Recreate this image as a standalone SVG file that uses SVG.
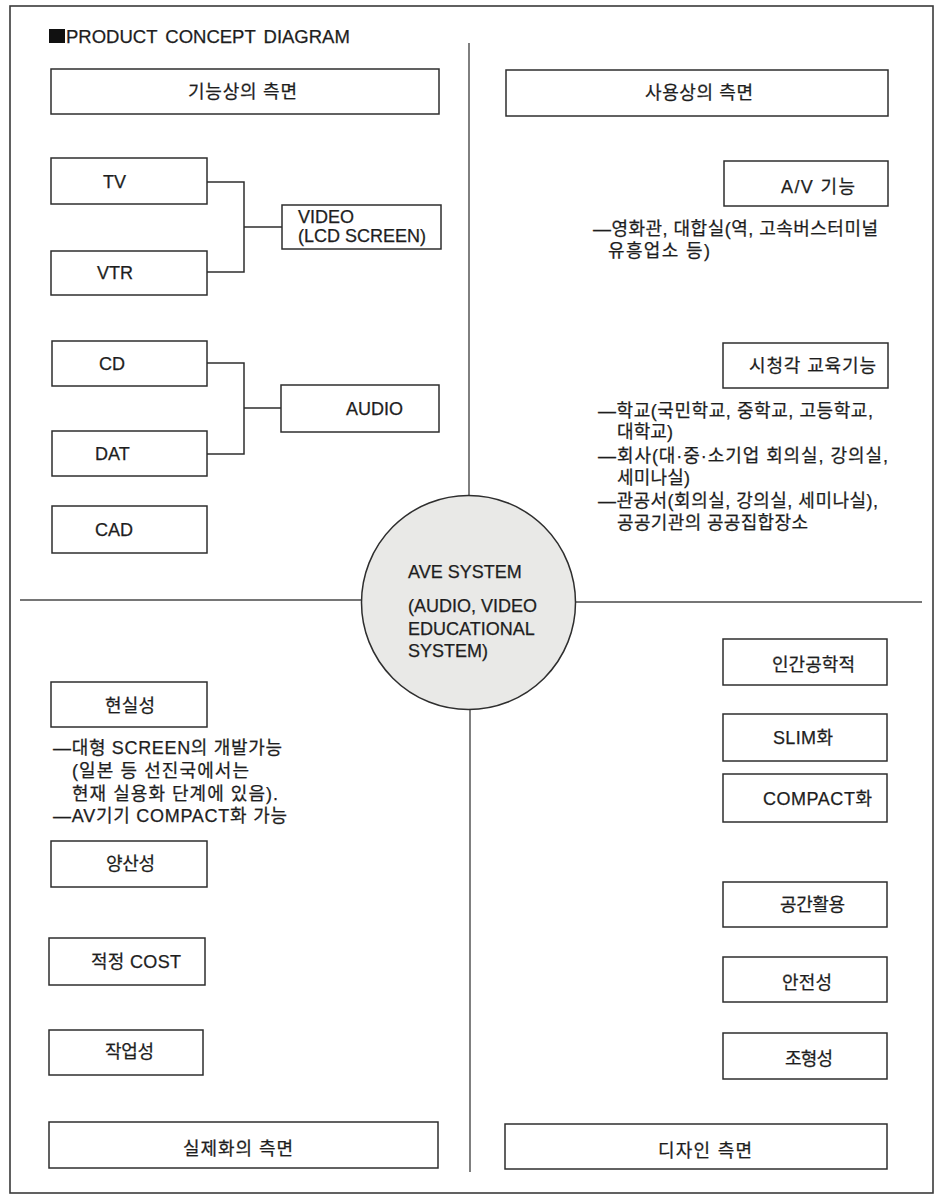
<svg xmlns="http://www.w3.org/2000/svg" width="940" height="1198" viewBox="0 0 940 1198">
<style>
.bg{fill:#ffffff}
.frame{fill:none;stroke:#3a3a3a;stroke-width:1.6}
.box{fill:#ffffff;stroke:#2e2e2e;stroke-width:1.5}
.ln{fill:none;stroke:#2e2e2e;stroke-width:1.5}
.div{fill:none;stroke:#4a4a4a;stroke-width:1.4}
.hub{fill:#e9e9e7;stroke:#2e2e2e;stroke-width:1.5}
text{font-family:"Liberation Sans","Noto Sans CJK KR",sans-serif;fill:#1e1e1e;stroke:#1e1e1e;stroke-width:0.25}
.t{font-size:18px}
.h{font-size:18.5px;word-spacing:3px}
.k{font-size:18px}
.n{font-size:18px}
</style>
<rect class="bg" x="0" y="0" width="940" height="1198"/>
<rect class="frame" x="10" y="6" width="923" height="1187"/>

<g id="title">
<rect x="49" y="29" width="16" height="14" fill="#111"/>
<text class="h" x="66" y="43">PRODUCT CONCEPT DIAGRAM</text>
</g>

<g id="connectors">
<path class="div" d="M469 43 V495 M470 710 V1172 M20 600 H362 M575 602 H922"/>
<path class="ln" d="M207 182 H244 V272 H207 M244 227 H282"/>
<path class="ln" d="M207 363 H244 V454 H207 M244 408 H281"/>
</g>

<g id="hub">
<circle class="hub" cx="468.5" cy="602.5" r="107"/>
<text class="t" x="408" y="578">AVE SYSTEM</text>
<text class="t" x="408" y="612">(AUDIO, VIDEO</text>
<text class="t" x="408" y="635">EDUCATIONAL</text>
<text class="t" x="408" y="657">SYSTEM)</text>
</g>

<g id="func-aspect"><rect class="box" x="51" y="69" width="388" height="45"/><text class="k" x="188" y="98" textLength="109" lengthAdjust="spacing">기능상의 측면</text></g>
<g id="use-aspect"><rect class="box" x="506" y="70" width="382" height="46"/><text class="k" x="645" y="99" textLength="108" lengthAdjust="spacing">사용상의 측면</text></g>
<g id="real-aspect"><rect class="box" x="49" y="1122" width="389" height="46"/><text class="k" x="183" y="1155" textLength="110" lengthAdjust="spacing">실제화의 측면</text></g>
<g id="design-aspect"><rect class="box" x="505" y="1124" width="382" height="45"/><text class="k" x="658" y="1157" textLength="94" lengthAdjust="spacing">디자인 측면</text></g>

<g id="tv"><rect class="box" x="51" y="158" width="156" height="46"/><text class="t" x="103" y="188">TV</text></g>
<g id="vtr"><rect class="box" x="51" y="251" width="156" height="44"/><text class="t" x="97" y="279">VTR</text></g>
<g id="video"><rect class="box" x="282" y="205" width="159" height="44"/><text class="t" x="298" y="223">VIDEO</text><text class="t" x="298" y="242">(LCD SCREEN)</text></g>
<g id="cd"><rect class="box" x="52" y="341" width="155" height="45"/><text class="t" x="99" y="370">CD</text></g>
<g id="dat"><rect class="box" x="52" y="431" width="155" height="45"/><text class="t" x="95" y="460">DAT</text></g>
<g id="cad"><rect class="box" x="52" y="506" width="155" height="47"/><text class="t" x="95" y="536">CAD</text></g>
<g id="audio"><rect class="box" x="281" y="385" width="158" height="47"/><text class="t" x="346" y="415">AUDIO</text></g>

<g id="av"><rect class="box" x="724" y="161" width="164" height="45"/><text class="t" x="781" y="193" textLength="74" lengthAdjust="spacing">A/V 기능</text></g>
<g id="av-notes">
<text class="n" x="593" y="235" textLength="285" lengthAdjust="spacing">—영화관, 대합실(역, 고속버스터미널</text>
<text class="n" x="608" y="257" textLength="102" lengthAdjust="spacing">유흥업소 등)</text>
</g>
<g id="edu"><rect class="box" x="723" y="343" width="165" height="45"/><text class="k" x="749" y="372" textLength="127" lengthAdjust="spacing">시청각 교육기능</text></g>
<g id="edu-notes">
<text class="n" x="598" y="417" textLength="275" lengthAdjust="spacing">—학교(국민학교, 중학교, 고등학교,</text>
<text class="n" x="617" y="438" textLength="56" lengthAdjust="spacing">대학교)</text>
<text class="n" x="598" y="462" textLength="290" lengthAdjust="spacing">—회사(대·중·소기업 회의실, 강의실,</text>
<text class="n" x="617" y="484" textLength="73" lengthAdjust="spacing">세미나실)</text>
<text class="n" x="598" y="507" textLength="280" lengthAdjust="spacing">—관공서(회의실, 강의실, 세미나실),</text>
<text class="n" x="617" y="529" textLength="191" lengthAdjust="spacing">공공기관의 공공집합장소</text>
</g>

<g id="reality"><rect class="box" x="51" y="682" width="156" height="45"/><text class="k" x="105" y="712" textLength="50" lengthAdjust="spacing">현실성</text></g>
<g id="reality-notes">
<text class="n" x="53" y="754" textLength="229" lengthAdjust="spacing">—대형 SCREEN의 개발가능</text>
<text class="n" x="72" y="777" textLength="177" lengthAdjust="spacing">(일본 등 선진국에서는</text>
<text class="n" x="72" y="800" textLength="206" lengthAdjust="spacing">현재 실용화 단계에 있음).</text>
<text class="n" x="53" y="822" textLength="234" lengthAdjust="spacing">—AV기기 COMPACT화 가능</text>
</g>
<g id="mass"><rect class="box" x="51" y="841" width="156" height="46"/><text class="k" x="106" y="870" textLength="49" lengthAdjust="spacing">양산성</text></g>
<g id="cost"><rect class="box" x="49" y="938" width="156" height="47"/><text class="k" x="91" y="968" textLength="90" lengthAdjust="spacing">적정 COST</text></g>
<g id="work"><rect class="box" x="49" y="1030" width="154" height="45"/><text class="k" x="105" y="1058" textLength="49" lengthAdjust="spacing">작업성</text></g>

<g id="ergo"><rect class="box" x="723" y="639" width="164" height="46"/><text class="k" x="772" y="671" textLength="83" lengthAdjust="spacing">인간공학적</text></g>
<g id="slim"><rect class="box" x="723" y="714" width="164" height="47"/><text class="t" x="773" y="744" textLength="60" lengthAdjust="spacing">SLIM화</text></g>
<g id="compact"><rect class="box" x="723" y="774" width="164" height="48"/><text class="t" x="763" y="805" textLength="109" lengthAdjust="spacing">COMPACT화</text></g>
<g id="space"><rect class="box" x="723" y="882" width="164" height="45"/><text class="k" x="780" y="911" textLength="65" lengthAdjust="spacing">공간활용</text></g>
<g id="safety"><rect class="box" x="723" y="957" width="164" height="45"/><text class="k" x="782" y="989" textLength="50" lengthAdjust="spacing">안전성</text></g>
<g id="form"><rect class="box" x="723" y="1033" width="164" height="46"/><text class="k" x="785" y="1065" textLength="48" lengthAdjust="spacing">조형성</text></g>
</svg>
